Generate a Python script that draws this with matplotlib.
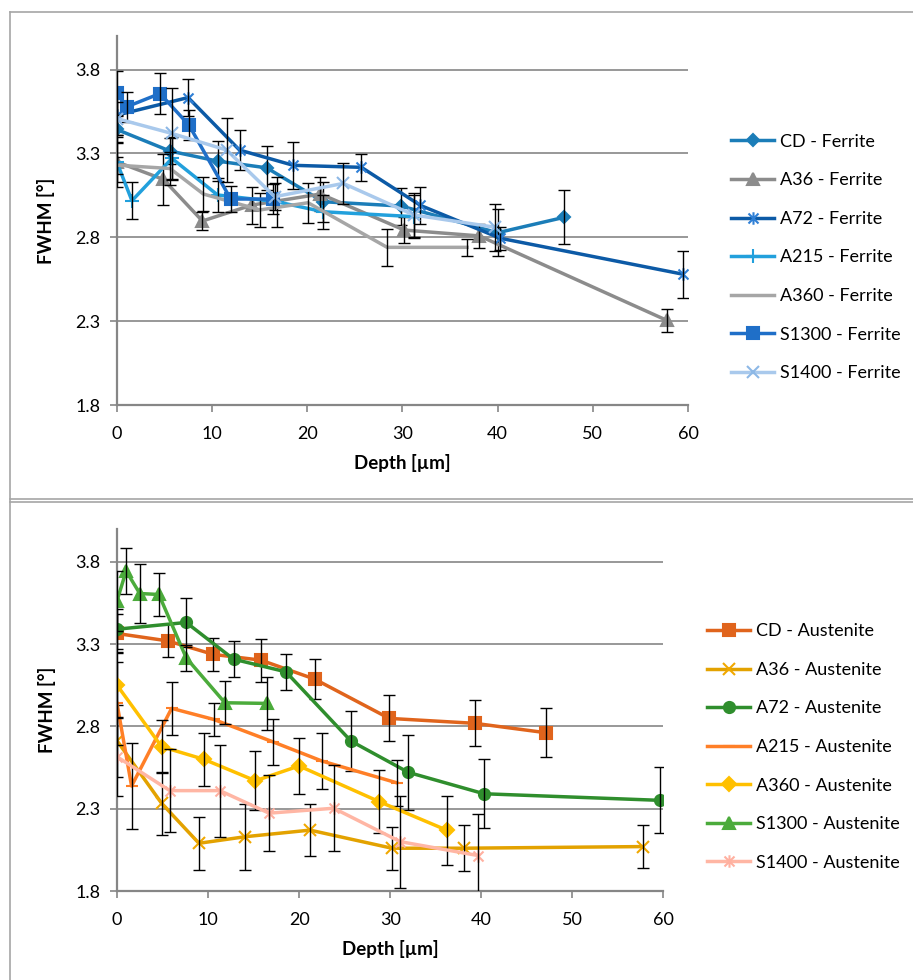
import matplotlib
matplotlib.use("Agg")
import matplotlib.pyplot as plt
from matplotlib.path import Path
from matplotlib.lines import Line2D

plt.rcParams['font.family'] = ['Lato', 'DejaVu Sans']

# ---------------- Ferrite data (top) ----------------
cd_f_x = [0, 5.6, 10.6, 15.75, 21.7, 29.9, 40.0, 47.0]
cd_f_y = [3.443, 3.314, 3.254, 3.214, 3.012, 2.986, 2.827, 2.919]
cd_f_e = [0.08, 0.08, 0.12, 0.13, 0.12, 0.11, 0.14, 0.16]

a36_f_x = [0, 4.9, 9.0, 14.2, 21.4, 30.2, 38.1, 57.8]
a36_f_y = [3.25, 3.145, 2.897, 2.992, 3.058, 2.843, 2.808, 2.304]
a36_f_e = [0.15, 0.15, 0.056, 0.11, 0.1, 0.08, 0.07, 0.07]

a72_f_x = [0, 7.5, 12.9, 18.55, 25.7, 31.9, 40.3, 59.45]
a72_f_y = [3.528, 3.633, 3.32, 3.229, 3.217, 2.99, 2.794, 2.58]
a72_f_e = [0.12, 0.11, 0.12, 0.14, 0.08, 0.11, 0.07, 0.14]

a215_f_x = [0, 1.6, 5.8, 10.6, 16.8, 21.7, 31.2]
a215_f_y = [3.25, 3.018, 3.27, 3.052, 3.012, 2.952, 2.923]
a215_f_e = [0.12, 0.11, 0.13, 0.1, 0.15, 0.1, 0.13]

a360_f_x = [0, 5.6, 9.1, 15.05, 20.1, 28.4, 36.8]
a360_f_y = [3.23, 3.21, 3.058, 2.963, 3.006, 2.74, 2.74]
a360_f_e = [0.05, 0.1, 0.1, 0.1, 0.12, 0.11, 0.05]

s1300_f_x = [0, 1.05, 4.55, 7.6, 11.97, 16.45]
s1300_f_y = [3.66, 3.578, 3.657, 3.468, 3.028, 3.028]
s1300_f_e = [0.13, 0.09, 0.12, 0.09, 0.08, 0.09]

s1400_f_x = [0, 5.8, 11.55, 16.6, 23.8, 31.2, 39.7]
s1400_f_y = [3.508, 3.419, 3.32, 3.042, 3.121, 2.933, 2.86]
s1400_f_e = [0.1, 0.27, 0.19, 0.08, 0.12, 0.13, 0.14]

# ---------------- Austenite data (bottom) ----------------
cd_a_x = [0, 5.57, 10.57, 15.8, 21.7, 29.9, 39.3, 47.1]
cd_a_y = [3.365, 3.32, 3.238, 3.203, 3.088, 2.849, 2.819, 2.762]
cd_a_e = [0.12, 0.1, 0.1, 0.13, 0.12, 0.14, 0.14, 0.15]

a36_a_x = [0, 4.9, 9.0, 14.1, 21.2, 30.2, 38.1, 57.8]
a36_a_y = [2.713, 2.333, 2.09, 2.13, 2.17, 2.06, 2.06, 2.07]
a36_a_e = [0.22, 0.19, 0.16, 0.2, 0.16, 0.13, 0.14, 0.13]

a72_a_x = [0, 7.6, 12.8, 18.55, 25.7, 32.0, 40.3, 59.6]
a72_a_y = [3.391, 3.432, 3.209, 3.132, 2.711, 2.521, 2.391, 2.351]
a72_a_e = [0.12, 0.15, 0.11, 0.11, 0.18, 0.23, 0.21, 0.2]

a215_a_x = [0, 1.6, 6.0, 10.6, 17.1, 22.5, 30.7]
a215_a_y = [2.94, 2.438, 2.91, 2.843, 2.707, 2.59, 2.458]
a215_a_e = [0.25, 0.26, 0.16, 0.1, 0.14, 0.17, 0.14]

a360_a_x = [0, 4.9, 9.56, 15.2, 20.0, 28.8, 36.2]
a360_a_y = [3.051, 2.677, 2.6, 2.47, 2.56, 2.343, 2.17]
a360_a_e = [0.2, 0.16, 0.16, 0.18, 0.17, 0.19, 0.21]

s1300_a_x = [0, 1.0, 2.5, 4.6, 7.6, 11.85, 16.5]
s1300_a_y = [3.563, 3.745, 3.608, 3.602, 3.217, 2.944, 2.94]
s1300_a_e = [0.18, 0.14, 0.18, 0.13, 0.08, 0.13, 0.16]

s1400_a_x = [0, 5.8, 11.3, 16.7, 23.8, 31.1, 39.7]
s1400_a_y = [2.616, 2.41, 2.41, 2.273, 2.303, 2.1, 2.015]
s1400_a_e = [0.24, 0.25, 0.28, 0.23, 0.26, 0.28, 0.25]

y_ticks = [1.8, 2.3, 2.8, 3.3, 3.8]
x_ticks = [0, 10, 20, 30, 40, 50, 60]

ast = Path([(-1, -1), (1, 1), (-1, 1), (1, -1), (0, -1.25), (0, 1.25)],
           [Path.MOVETO, Path.LINETO, Path.MOVETO, Path.LINETO, Path.MOVETO, Path.LINETO])

ferrite = [
    ("CD - Ferrite", cd_f_x, cd_f_y, cd_f_e, '#1b7db8', 'D', 6.5, '#1b7db8'),
    ("A36 - Ferrite", a36_f_x, a36_f_y, a36_f_e, '#8c8c8c', '^', 8, '#8c8c8c'),
    ("A72 - Ferrite", a72_f_x, a72_f_y, a72_f_e, '#0c5aa6', ast, 9, '#2e7fd6'),
    ("A215 - Ferrite", a215_f_x, a215_f_y, a215_f_e, '#22a0dc', '+', 10, '#22a0dc'),
    ("A360 - Ferrite", a360_f_x, a360_f_y, a360_f_e, '#a6a6a6', None, 0, '#a6a6a6'),
    ("S1300 - Ferrite", s1300_f_x, s1300_f_y, s1300_f_e, '#1f6fc8', 's', 8, '#1f6fc8'),
    ("S1400 - Ferrite", s1400_f_x, s1400_f_y, s1400_f_e, '#a9c9ec', 'x', 9, '#8db8e6'),
]

austenite = [
    ("CD - Austenite", cd_a_x, cd_a_y, cd_a_e, '#e0641c', 's', 8, '#e0641c'),
    ("A36 - Austenite", a36_a_x, a36_a_y, a36_a_e, '#e3a200', 'x', 9, '#f0a800'),
    ("A72 - Austenite", a72_a_x, a72_a_y, a72_a_e, '#2f8e2d', 'o', 8, '#2f8e2d'),
    ("A215 - Austenite", a215_a_x, a215_a_y, a215_a_e, '#ff7f27', '_', 8, '#ff7f27'),
    ("A360 - Austenite", a360_a_x, a360_a_y, a360_a_e, '#ffc000', 'D', 7, '#ffc000'),
    ("S1300 - Austenite", s1300_a_x, s1300_a_y, s1300_a_e, '#4bab3b', '^', 8, '#4bab3b'),
    ("S1400 - Austenite", s1400_a_x, s1400_a_y, s1400_a_e, '#ffb6a4', ast, 9, '#ffb0a0'),
]

W, H = 913, 980
fig = plt.figure(figsize=(W / 100, H / 100), dpi=100)

def px_axes(l, r, t, b):
    return fig.add_axes([l / W, 1 - b / H, (r - l) / W, (b - t) / H])

ax1 = px_axes(116.7, 688, 36, 405)
ax2 = px_axes(117, 663.3, 529, 891)

gray = '#868686'
FS = 13

def style(ax, xmax):
    ax.set_xlim(0, xmax)
    ax.set_ylim(1.8, 4.0)
    ax.set_yticks(y_ticks)
    ax.set_yticklabels([f"{v:.1f}" for v in y_ticks])
    ax.set_xticks(x_ticks)
    ax.grid(axis='y', color=gray, lw=1.2)
    ax.set_axisbelow(True)
    for s in ('top', 'right'):
        ax.spines[s].set_visible(False)
    for s in ('left', 'bottom'):
        ax.spines[s].set_color(gray)
        ax.spines[s].set_linewidth(1.6)
    ax.tick_params(axis='both', direction='out', length=5, width=1.2, color=gray,
                   labelsize=FS, labelcolor='black')
    ax.tick_params(axis='y', pad=7)
    ax.tick_params(axis='x', pad=10)
    ax.set_ylabel("FWHM [°]", fontsize=13.5, fontweight='bold', labelpad=14)
    ax.set_xlabel("Depth [µm]", fontsize=13.5, fontweight='bold', labelpad=9)

def draw(ax, series):
    z = 3
    for name, x, y, e, col, mk, ms, mcol in series:
        kw = dict(color=col, lw=2.5, label=name, zorder=z, solid_joinstyle='round')
        if mk is not None:
            kw.update(marker=mk, markersize=ms, markerfacecolor=mcol,
                      markeredgecolor=mcol, markeredgewidth=1.5)
        ax.plot(x, y, **kw)
        ax.errorbar(x, y, yerr=e, fmt='none', ecolor='black', elinewidth=1,
                    capsize=4, capthick=1, zorder=z + 0.5)
        z += 1

style(ax1, 60)
style(ax2, 60)
draw(ax1, ferrite)
draw(ax2, austenite)

ax1.legend(loc='center left', bbox_to_anchor=(731 / W, 1 - 257.5 / H),
           bbox_transform=fig.transFigure, frameon=False, fontsize=FS,
           handlelength=2.4, handletextpad=0.3, labelspacing=1.25, borderpad=0,
           borderaxespad=0)
ax2.legend(loc='center left', bbox_to_anchor=(707 / W, 1 - 747 / H),
           bbox_transform=fig.transFigure, frameon=False, fontsize=FS,
           handlelength=2.4, handletextpad=0.3, labelspacing=1.25, borderpad=0,
           borderaxespad=0)

# panel borders
bc = '#a6a6a6'
fig.add_artist(Line2D([10 / W, 1], [1 - 12 / H, 1 - 12 / H], color=bc, lw=1.2))
fig.add_artist(Line2D([10 / W, 10 / W], [1 - 12 / H, 0], color=bc, lw=1.2))
fig.add_artist(Line2D([10 / W, 1], [1 - 499 / H, 1 - 499 / H], color=bc, lw=1.2))
fig.add_artist(Line2D([10 / W, 1], [1 - 502 / H, 1 - 502 / H], color=bc, lw=1.2))

fig.savefig("out.png", dpi=100)
